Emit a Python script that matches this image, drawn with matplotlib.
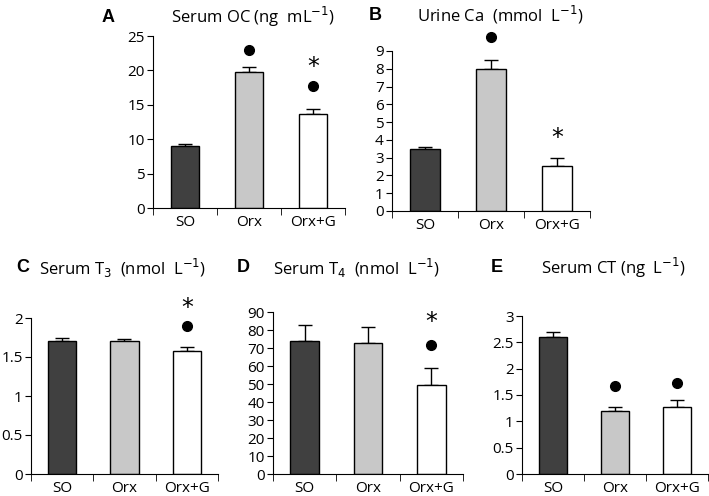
import matplotlib.pyplot as plt
import numpy as np

plt.rcParams['font.family'] = ['Open Sans', 'DejaVu Sans']

groups = ['SO', 'Orx', 'Orx+G']
colors = ['#404040', '#c8c8c8', '#ffffff']

# panel data: means, upper error, dot positions, star positions
oc_mean = [9.0, 19.8, 13.7]
oc_err = [0.3, 0.7, 0.7]
ca_mean = [3.5, 8.0, 2.55]
ca_err = [0.08, 0.5, 0.45]
t3_mean = [1.70, 1.70, 1.58]
t3_err = [0.04, 0.03, 0.05]
t4_mean = [74, 73, 49.5]
t4_err = [9, 8.5, 9.5]
ct_mean = [2.6, 1.2, 1.28]
ct_err = [0.1, 0.07, 0.12]

panels = [
    # letter, title, mean, err, ylim, yticks, dots {idx: y}, stars {idx: y}, axes box px (left, right, top, bottom)
    ('A', r'Serum OC (ng  mL$^{-1}$)', oc_mean, oc_err, 25, np.arange(0, 26, 5),
     {1: 23.0, 2: 17.7}, {2: 20.5}, (153, 345, 36, 208), (108, 253, 17)),
    ('B', r'Urine Ca  (mmol  L$^{-1}$)', ca_mean, ca_err, 9, np.arange(0, 10, 1),
     {1: 9.8}, {2: 4.1}, (392, 590, 51, 211), (375, 500, 15)),
    ('C', r'Serum T$_3$  (nmol  L$^{-1}$)', t3_mean, t3_err, 2, [0, 0.5, 1, 1.5, 2],
     {2: 1.90}, {2: 2.13}, (31, 218, 318, 474), (23, 123, 268)),
    ('D', r'Serum T$_4$  (nmol  L$^{-1}$)', t4_mean, t4_err, 90, np.arange(0, 91, 10),
     {2: 71.7}, {2: 84.5}, (273, 463, 312, 474), (243, 357, 268)),
    ('E', r'Serum CT (ng  L$^{-1}$)', ct_mean, ct_err, 3, [0, 0.5, 1, 1.5, 2, 2.5, 3],
     {1: 1.67, 2: 1.72}, {}, (522, 708, 316, 474), (497, 613, 268)),
]

W, H = 709, 496
fig = plt.figure(figsize=(W / 100, H / 100), dpi=100)

for letter, title, mean, err, ymax, yt, dots, stars, box, tpos in panels:
    l, r, t, b = box
    ax = fig.add_axes([l / W, 1 - b / H, (r - l) / W, (b - t) / H])
    x = np.arange(3)
    ax.bar(x, mean, width=0.45, color=colors, edgecolor='black', linewidth=1, zorder=2)
    ax.errorbar(x, mean, yerr=[np.zeros(3), err], fmt='none', ecolor='black',
                elinewidth=1, capsize=5, capthick=1, zorder=1)
    for i, yv in dots.items():
        ax.plot(i, yv, 'o', color='black', markersize=7, clip_on=False)
    for i, yv in stars.items():
        ax.text(i, yv, '*', ha='center', va='center', fontsize=17,
                family='DejaVu Sans')
    ax.set_xlim(-0.5, 2.5)
    ax.set_ylim(0, ymax)
    ax.set_yticks(yt)
    ax.set_yticklabels([('%g' % v) for v in yt])
    ax.set_xticks(x)
    ax.set_xticklabels(groups)
    ax.set_xticks([-0.5, 0.5, 1.5, 2.5], minor=True)
    ax.tick_params(axis='x', which='major', length=0, pad=5, labelsize=11)
    ax.tick_params(axis='x', which='minor', length=5, direction='out')
    ax.tick_params(axis='y', length=4, direction='out', labelsize=11, pad=2)
    for s in ['top', 'right']:
        ax.spines[s].set_visible(False)
    fig.text(tpos[0] / W, 1 - tpos[2] / H, letter, fontsize=13, fontweight='bold',
             ha='center', va='center', family='Liberation Sans')
    fig.text(tpos[1] / W, 1 - tpos[2] / H, title, fontsize=12, ha='center', va='center')

fig.savefig('out.png', dpi=100)
